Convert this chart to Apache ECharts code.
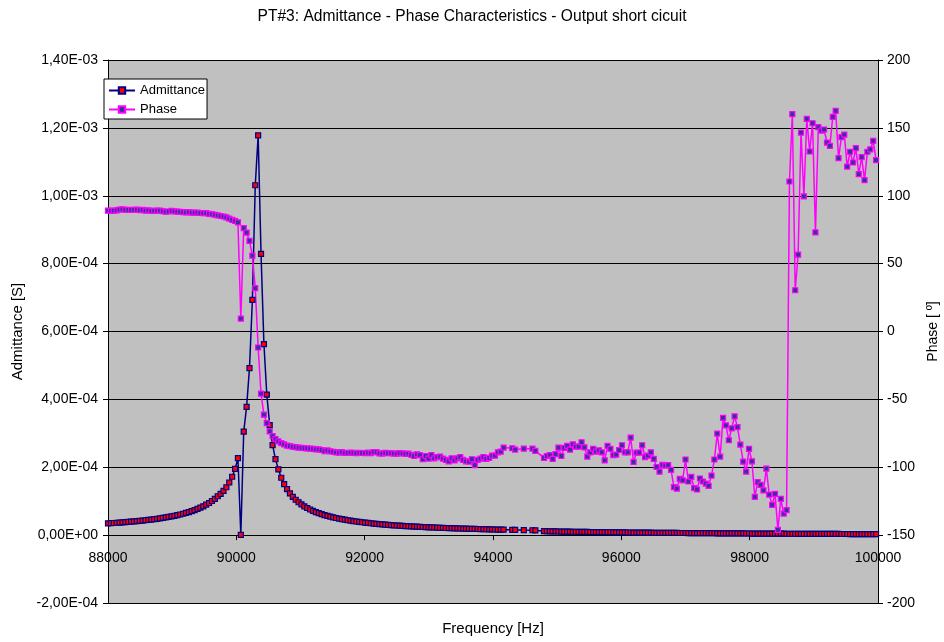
<!DOCTYPE html>
<html>
<head>
<meta charset="utf-8">
<script src="https://cdn.jsdelivr.net/npm/echarts@6/dist/echarts.min.js"></script>
<style>
  html, body { margin: 0; padding: 0; background: #fff; }
  #chart { width: 944px; height: 642px; }
</style>
</head>
<body>
<div id="chart"></div>
<script>
// Sweep frequencies [Hz] (a few rows of the sweep were not recorded)
const frequency = [
  88000, 88045, 88090, 88135, 88180, 88225, 88270, 88315, 88360, 88405,
  88450, 88495, 88540, 88585, 88630, 88675, 88720, 88765, 88810, 88855,
  88900, 88945, 88990, 89035, 89080, 89125, 89170, 89215, 89260, 89305,
  89350, 89395, 89440, 89485, 89530, 89575, 89620, 89665, 89710, 89755,
  89800, 89845, 89890, 89935, 89980, 90025, 90070, 90115, 90160, 90205,
  90250, 90295, 90340, 90385, 90430, 90475, 90520, 90565, 90610, 90655,
  90700, 90745, 90790, 90835, 90880, 90925, 90970, 91015, 91060, 91105,
  91150, 91195, 91240, 91285, 91330, 91375, 91420, 91465, 91510, 91555,
  91600, 91645, 91690, 91735, 91780, 91825, 91870, 91915, 91960, 92005,
  92050, 92095, 92140, 92185, 92230, 92275, 92320, 92365, 92410, 92455,
  92500, 92545, 92590, 92635, 92680, 92725, 92770, 92815, 92860, 92905,
  92950, 92995, 93040, 93085, 93130, 93175, 93220, 93265, 93310, 93355,
  93400, 93445, 93490, 93535, 93580, 93625, 93670, 93715, 93760, 93805,
  93850, 93895, 93940, 93985, 94030, 94075, 94120, 94165,
  94300, 94345, 94480, 94615, 94660,
  94795, 94840, 94885, 94930, 94975, 95020, 95065, 95110, 95155, 95200,
  95245, 95290, 95335, 95380, 95425, 95470, 95515, 95560, 95605, 95650,
  95695, 95740, 95785, 95830, 95875, 95920, 95965, 96010, 96055, 96100,
  96145, 96190, 96235, 96280, 96325, 96370, 96415, 96460, 96505, 96550,
  96595, 96640, 96685, 96730, 96775, 96820, 96865, 96910, 96955, 97000,
  97045, 97090, 97135, 97180, 97225, 97270, 97315, 97360, 97405, 97450,
  97495, 97540, 97585, 97630, 97675, 97720, 97765, 97810, 97855, 97900,
  97945, 97990, 98035, 98080, 98125, 98170, 98215, 98260, 98305, 98350,
  98395, 98440, 98485, 98530, 98575, 98620, 98665, 98710, 98755, 98800,
  98845, 98890, 98935, 98980, 99025, 99070, 99115, 99160, 99205, 99250,
  99295, 99340, 99385, 99430, 99475, 99520, 99565, 99610, 99655, 99700,
  99745, 99790, 99835, 99880, 99925, 99970
];

// Admittance magnitude [µS], one value per frequency
const admittanceMicroS = [
  34.8, 35.3, 35.8, 36.4, 37.0, 37.6, 38.2, 38.9, 39.6, 40.4,
  41.1, 42.0, 42.9, 43.8, 44.8, 45.8, 46.9, 48.1, 49.3, 50.7,
  52.1, 53.6, 55.2, 56.9, 58.8, 60.8, 63.0, 65.4, 68.0, 70.8,
  73.8, 77.2, 80.9, 85.0, 89.6, 94.7, 100.5, 107.1, 114.6, 121.5,
  130.5, 141, 155, 172, 195, 227, 0.5, 305, 378, 492,
  693, 1031, 1178, 829, 563, 414, 324, 265, 224, 194,
  169, 150, 135.3, 123.1, 113.0, 104.3, 96.9, 90.5, 84.9, 79.9,
  75.5, 71.6, 68.0, 64.8, 61.8, 59.2, 56.7, 54.5, 52.4, 50.4,
  48.6, 47.0, 45.4, 43.9, 42.6, 41.3, 40.1, 38.9, 37.9, 36.8,
  35.9, 35.0, 34.1, 33.3, 32.5, 31.7, 31.0, 30.3, 29.6, 29.0,
  28.4, 27.8, 27.3, 26.7, 26.2, 25.7, 25.3, 24.8, 24.4, 23.9,
  23.5, 23.1, 22.7, 22.4, 22.0, 21.7, 21.3, 21.0, 20.7, 20.4,
  20.1, 19.8, 19.5, 19.2, 19.0, 18.7, 18.4, 18.2, 18.0, 17.7,
  17.5, 17.3, 17.1, 16.9, 16.6, 16.4, 16.3, 16.1,
  15.5, 15.3, 14.8, 14.4, 14.2,
  11.5, 11.4, 11.2, 11.1, 10.8, 10.7, 10.6, 10.4, 10.3, 10.1,
  10.0, 9.9, 9.7, 9.6, 9.5, 9.4, 9.2, 9.1, 9.0, 8.9,
  8.8, 8.6, 8.5, 8.4, 8.3, 8.2, 8.1, 8.0, 7.9, 7.8,
  7.7, 7.6, 7.6, 7.5, 7.4, 7.3, 7.2, 7.1, 7.0, 6.9,
  6.8, 6.8, 6.7, 6.6, 6.5, 6.4, 6.4, 6.3, 6.2, 6.2,
  6.1, 6.0, 6.0, 5.9, 5.8, 5.7, 5.7, 5.6, 5.6, 5.5,
  5.4, 5.4, 5.3, 5.3, 5.2, 5.1, 5.1, 5.0, 5.0, 4.9,
  4.8, 4.8, 4.7, 4.7, 4.6, 4.6, 4.5, 4.5, 4.4, 4.4,
  4.3, 4.3, 4.2, 4.2, 4.1, 4.1, 4.0, 4.0, 3.9, 3.9,
  3.8, 3.8, 3.8, 3.7, 3.7, 3.6, 3.6, 3.6, 3.5, 3.5,
  3.4, 3.4, 3.4, 3.3, 3.3, 3.3, 3.2, 3.2, 3.1, 3.1,
  3.1, 3.0, 3.0, 3.0, 2.9, 2.9
];

// Phase [°], one value per frequency
const phaseDeg = [
  89.0, 88.8, 89.0, 89.3, 89.8, 90.0, 89.7, 89.6, 89.5, 89.7,
  89.8, 89.4, 89.6, 89.0, 89.2, 88.8, 88.9, 89.1, 89.0, 88.6,
  88.2, 88.4, 88.9, 88.5, 88.3, 88.2, 88.0, 87.7, 88.0, 87.6,
  87.5, 87.5, 87.3, 87.2, 87.2, 86.6, 86.5, 86.0, 85.6, 85.1,
  84.7, 84.1, 83.2, 82.3, 81.5, 80.4, 9.5, 76.2, 72.8, 66.7,
  55.9, 31.9, -11.8, -45.8, -61.3, -67.5, -73.6, -77.0, -79.3, -81.0,
  -82.3, -83.2, -84.0, -84.5, -84.9, -85.2, -85.5, -85.7, -86.0, -86.1,
  -86.3, -86.5, -86.8, -86.9, -87.3, -88.2, -87.6, -88.3, -88.6, -89.0,
  -89.2, -88.9, -89.4, -89.5, -89.3, -89.4, -89.6, -89.4, -89.5, -89.6,
  -89.3, -89.6, -88.8, -88.9, -89.8, -89.9, -89.4, -89.7, -89.6, -89.9,
  -90.0, -89.6, -89.8, -90.1, -90.0, -90.8, -91.7, -90.5, -91.0, -94.1,
  -91.7, -93.6, -91.0, -93.4, -92.5, -92.2, -93.6, -94.6, -95.6, -93.4,
  -94.9, -93.4, -92.6, -94.6, -95.6, -95.8, -94.1, -98.5, -94.6, -93.6,
  -92.6, -93.9, -93.1, -91.4, -91.4, -89.0, -88.5, -85.5,
  -86.0, -87.0, -86.3, -86.3, -88.0,
  -93.1, -91.7, -91.0, -93.9, -90.4, -85.5, -91.7, -85.8, -84.3, -87.0,
  -83.1, -84.8, -84.8, -81.6, -85.3, -92.2, -89.0, -86.5, -88.5, -87.5,
  -89.0, -94.9, -84.3, -86.5, -91.0, -90.7, -87.3, -83.8, -89.0, -89.0,
  -78.2, -96.1, -89.2, -89.2, -83.8, -92.6, -91.5, -89.0, -93.9, -99.8,
  -103.2, -98.3, -98.8, -98.5, -102.0, -114.7, -115.7, -108.6, -109.6, -94.3,
  -110.5, -107.1, -115.4, -116.4, -108.3, -110.5, -112.0, -113.7, -106.1, -94.3,
  -75.2, -92.2, -63.7, -69.1, -80.1, -71.3, -62.5, -70.4, -83.3, -95.8,
  -103.2, -86.5, -95.6, -121.8, -111.0, -113.0, -117.1, -101.0, -120.1, -127.7,
  -119.6, -146.1, -123.3, -134.1, -131.6, 110.5, 160.1, 30.4, 56.6, 146.5,
  99.5, 156.6, 132.6, 153.4, 73.0, 150.5, 148.0, 148.8, 139.2, 136.8,
  158.1, 162.5, 127.7, 143.2, 145.1, 121.5, 132.4, 124.5, 135.1, 116.0,
  128.5, 111.5, 132.4, 134.1, 140.4, 126.2
];

// Axis ranges and tick steps
const xRange = [88000, 100000, 2000];
const admRange = [-0.0002, 0.0014, 0.0002];
const phaseRange = [-200, 200, 50];

const admittancePoints = frequency.map((f, i) => [f, admittanceMicroS[i] / 1e6]);
const phasePoints = frequency.map((f, i) => [f, phaseDeg[i]]);

// "1,40E-03" style labels (comma decimal separator, two-digit exponent)
function sciLabel(v) {
  if (Math.abs(v) < 1e-12) return '0,00E+00';
  const parts = v.toExponential(2).split('e');
  const exp = parseInt(parts[1], 10);
  return parts[0].replace('.', ',') + 'E' + (exp < 0 ? '-' : '+') + String(Math.abs(exp)).padStart(2, '0');
}

// Plot box and the frequency axis lifted onto the zero admittance level
const CHART_H = 642;
const GRID = { left: 108, right: 66, top: 60, bottom: 39 };
const plotH = CHART_H - GRID.top - GRID.bottom;
const xAxisLift = -plotH * (0 - admRange[0]) / (admRange[1] - admRange[0]);

const FONT = '"Liberation Sans", Arial, sans-serif';
const chart = echarts.init(document.getElementById('chart'), null, { renderer: 'canvas' });

chart.setOption({
  animation: false,
  backgroundColor: '#ffffff',
  textStyle: { fontFamily: FONT, color: '#000' },
  title: {
    text: 'PT#3: Admittance - Phase Characteristics - Output short cicuit',
    left: 'center',
    top: 4,
    textStyle: { fontFamily: FONT, fontSize: 15.6, fontWeight: 'normal', color: '#000' }
  },
  legend: {
    left: 104,
    top: 79,
    orient: 'vertical',
    backgroundColor: '#ffffff',
    borderColor: '#000',
    borderWidth: 1,
    borderRadius: 0,
    padding: [5, 2, 3, 4],
    itemGap: 6,
    itemWidth: 26,
    itemHeight: 8,
    textStyle: { fontFamily: FONT, fontSize: 13, color: '#000' },
    data: ['Admittance', 'Phase']
  },
  grid: {
    left: GRID.left,
    right: GRID.right,
    top: GRID.top,
    bottom: GRID.bottom,
    outerBoundsMode: 'none',
    containLabel: false,
    show: true,
    backgroundColor: '#c0c0c0',
    borderWidth: 0
  },
  xAxis: {
    type: 'value',
    position: 'bottom',
    offset: xAxisLift,
    min: xRange[0],
    max: xRange[1],
    interval: xRange[2],
    name: 'Frequency [Hz]',
    nameLocation: 'middle',
    nameGap: 86,
    nameTextStyle: { fontFamily: FONT, fontSize: 15, color: '#000' },
    axisLine: { onZero: false, lineStyle: { color: '#000', width: 1 } },
    axisTick: { show: true, inside: false, length: 5, lineStyle: { color: '#000' } },
    axisLabel: { fontFamily: FONT, fontSize: 14, color: '#000', margin: 16, formatter: v => String(v) },
    splitLine: { show: false }
  },
  yAxis: [
    {
      type: 'value',
      position: 'left',
      min: admRange[0],
      max: admRange[1],
      interval: admRange[2],
      name: 'Admittance [S]',
      nameLocation: 'middle',
      nameRotate: 90,
      nameGap: 82,
      nameTextStyle: { fontFamily: FONT, fontSize: 15, color: '#000' },
      axisLine: { show: true, onZero: false, lineStyle: { color: '#000', width: 1 } },
      axisTick: { show: true, inside: false, length: 5, lineStyle: { color: '#000' } },
      axisLabel: { fontFamily: FONT, fontSize: 14, color: '#000', margin: 10, formatter: sciLabel },
      splitLine: { show: true, lineStyle: { color: '#000', width: 1 } }
    },
    {
      type: 'value',
      position: 'right',
      min: phaseRange[0],
      max: phaseRange[1],
      interval: phaseRange[2],
      name: 'Phase [ º]',
      nameLocation: 'middle',
      nameRotate: 90,
      nameGap: 48,
      nameTextStyle: { fontFamily: FONT, fontSize: 14, color: '#000' },
      axisLine: { show: true, onZero: false, lineStyle: { color: '#000', width: 1 } },
      axisTick: { show: true, inside: false, length: 5, lineStyle: { color: '#000' } },
      axisLabel: { fontFamily: FONT, fontSize: 14, color: '#000', margin: 9 },
      splitLine: { show: false }
    }
  ],
  series: [
    {
      name: 'Admittance',
      type: 'line',
      yAxisIndex: 0,
      data: admittancePoints,
      symbol: 'rect',
      symbolSize: 5,
      showAllSymbol: true,
      lineStyle: { color: '#000080', width: 1.5 },
      itemStyle: { color: '#ff0000', borderColor: '#000080', borderWidth: 1.2 },
      emphasis: { disabled: true }
    },
    {
      name: 'Phase',
      type: 'line',
      yAxisIndex: 1,
      data: phasePoints,
      symbol: 'rect',
      symbolSize: 5,
      showAllSymbol: true,
      lineStyle: { color: '#ff00ff', width: 1.5 },
      itemStyle: { color: '#333399', borderColor: '#ff00ff', borderWidth: 1.2 },
      emphasis: { disabled: true }
    }
  ]
});
</script>
</body>
</html>
